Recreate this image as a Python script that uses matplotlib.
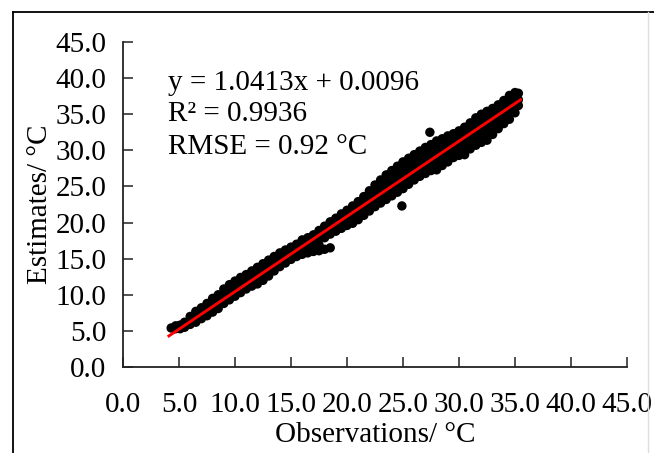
import matplotlib
matplotlib.use('Agg')
import matplotlib.pyplot as plt
from matplotlib.lines import Line2D

plt.rc('font', family='Liberation Serif', size=21)

# scatter band: one x column with its estimates
obs_x = [4.3, 4.7, 5.1, 5.5, 6.0, 6.5, 7.0, 7.5, 8.0, 8.5, 9.0, 9.5, 10.0, 10.5,
         11.0, 11.5, 12.0, 12.5, 13.0, 13.5, 14.0, 14.5, 15.0, 15.5, 16.0, 16.5,
         17.0, 17.5, 18.0, 18.5, 19.0, 19.5, 20.0, 20.5, 21.0, 21.5, 22.0, 22.5,
         23.0, 23.5, 24.0, 24.5, 25.0, 25.5, 26.0, 26.5, 27.0, 27.5, 28.0, 28.5,
         29.0, 29.5, 30.0, 30.5, 31.0, 31.5, 32.0, 32.5, 33.0, 33.5, 34.0, 34.5,
         35.0, 35.3]
est_cols = [
    [5.4], [5.3, 5.7], [5.3, 5.8], [5.5, 6.2],
    [5.9, 6.5, 7.0], [6.2, 7.0, 7.7], [6.7, 7.5, 8.2], [7.1, 8.0, 8.8],
    [7.6, 8.6, 9.5], [8.1, 9.1, 10.0], [8.8, 9.8, 10.8], [9.3, 10.3, 11.4],
    [9.8, 10.9, 11.9], [10.3, 11.4, 12.4], [10.8, 11.8, 12.8], [11.2, 12.3, 13.3],
    [11.5, 12.2, 13.0, 13.8], [12.0, 12.8, 13.6, 14.3], [12.6, 13.3, 14.1, 14.8],
    [13.3, 14.3, 15.3], [13.9, 14.9, 15.8], [14.4, 15.3, 16.2], [14.9, 15.8, 16.6],
    [15.3, 16.2, 17.0], [15.6, 16.6, 17.6], [15.8, 16.9, 17.9],
    [16.0, 16.9, 17.6, 18.3], [16.1, 16.9, 17.9, 18.9], [16.3, 17.9, 18.7, 19.5],
    [16.5, 18.4, 19.3, 20.1], [18.8, 19.7, 20.6], [19.2, 20.2, 21.2],
    [19.6, 20.7, 21.7], [19.9, 20.7, 21.5, 22.3], [20.4, 21.2, 22.0, 22.9],
    [21.0, 21.9, 22.7, 23.6], [21.6, 22.5, 23.5, 24.4], [22.2, 23.2, 24.2, 25.2],
    [22.7, 23.5, 24.3, 25.1, 25.9], [23.2, 24.0, 24.9, 25.8, 26.6],
    [23.7, 24.6, 25.5, 26.4, 27.2], [24.2, 25.1, 26.0, 26.9, 27.8],
    [24.7, 25.6, 26.5, 27.5, 28.4], [25.3, 26.2, 27.1, 28.0, 28.9],
    [25.9, 26.8, 27.6, 28.5, 29.4], [26.4, 27.3, 28.2, 29.0, 29.9],
    [26.8, 27.7, 28.6, 29.5, 30.4], [27.2, 28.1, 29.0, 29.9, 30.8],
    [27.3, 28.3, 29.3, 30.3, 31.3], [27.9, 28.8, 29.7, 30.7, 31.6],
    [28.4, 29.3, 30.2, 31.1, 32.0], [29.0, 29.8, 30.6, 31.5, 32.3],
    [29.3, 30.2, 31.0, 31.9, 32.7], [29.4, 30.4, 31.3, 32.3, 33.2],
    [30.2, 31.1, 32.0, 32.9, 33.8], [30.7, 31.6, 32.6, 33.5, 34.5],
    [31.1, 32.1, 33.0, 34.0, 35.0], [31.4, 32.4, 33.4, 34.4, 35.4],
    [32.2, 33.1, 34.0, 34.9, 35.8], [33.0, 33.8, 34.7, 35.5, 36.3],
    [33.7, 34.5, 35.3, 36.1, 36.9], [34.3, 35.1, 35.9, 36.8, 37.6],
    [35.2, 35.9, 36.6, 37.3, 38.0], [36.2, 37.0, 37.9],
]
outlier_x = [24.9, 27.4]
outlier_y = [22.3, 32.5]

fit_x = [4.1, 35.5]
fit_y = [4.3, 37.0]

ticks = [0, 5, 10, 15, 20, 25, 30, 35, 40, 45]

xs, ys = [], []
for x, col in zip(obs_x, est_cols):
    for y in col:
        xs.append(x)
        ys.append(y)
xs += outlier_x
ys += outlier_y

fig = plt.figure(figsize=(6.54, 4.53), dpi=100)
ax = fig.add_axes([123/654, 86/453, 504/654, 325/453])

ax.scatter(xs, ys, s=46, color='black', edgecolors='none', zorder=2)
ax.plot(fit_x, fit_y, color='#ff0000', linewidth=2.1, zorder=3)

ax.set_xlim(0, 45)
ax.set_ylim(0, 45)
ax.set_xticks(ticks)
ax.set_yticks(ticks)
ax.set_xticklabels(['%.1f' % t for t in ticks])
ax.set_yticklabels(['%.1f' % t for t in ticks])
ax.tick_params(direction='in', length=7, width=1.1, color='#222222')
ax.tick_params(axis='y', pad=12)
ax.tick_params(axis='x', pad=18)
for side in ['top', 'right']:
    ax.spines[side].set_visible(False)
for side in ['left', 'bottom']:
    ax.spines[side].set_linewidth(1.3)
    ax.spines[side].set_color('#222222')

ax.set_xlabel('Observations/ °C', labelpad=3)
ax.set_ylabel('Estimates/ °C', labelpad=2)

ax.text(4.0, 39.3, 'y = 1.0413x + 0.0096', va='center', ha='left')
ax.text(4.0, 35.0, 'R² = 0.9936', va='center', ha='left')
ax.text(4.0, 30.5, 'RMSE = 0.92 °C', va='center', ha='left')

# chart frame
fx = 13/654
fy = 1 - 12/453
fig.add_artist(Line2D([fx, fx], [0, fy], color='black', linewidth=1.3, transform=fig.transFigure))
fig.add_artist(Line2D([fx, 1], [fy, fy], color='black', linewidth=1.3, transform=fig.transFigure))
fig.add_artist(Line2D([648/654, 648/654], [0, fy], color='#dddddd', linewidth=1.0, transform=fig.transFigure))

fig.savefig('out.png', dpi=100)
